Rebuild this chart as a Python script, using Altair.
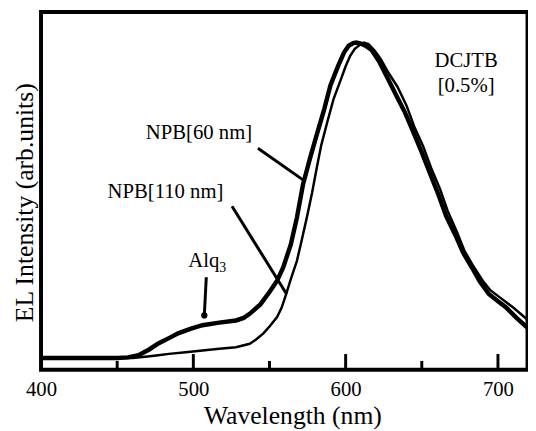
import altair as alt
import pandas as pd

# NPB[60 nm] (thick curve)
wl_60 = [400, 450, 457, 464, 471, 477, 484, 490, 498, 506, 517, 528, 533, 537, 544, 550, 555, 559, 564, 568,
         572, 577, 581, 586, 590, 595, 599, 602, 605, 607, 610, 613, 617, 622, 628, 634, 639, 645, 650, 655,
         661, 666, 672, 677, 683, 688, 694, 700, 705, 712, 720]
int_60 = [0, 0, 0.002, 0.009, 0.027, 0.046, 0.063, 0.078, 0.092, 0.104, 0.112, 0.119, 0.127, 0.14, 0.17, 0.209,
          0.245, 0.287, 0.36, 0.445, 0.55, 0.64, 0.707, 0.79, 0.864, 0.925, 0.969, 0.99, 0.998, 1.0, 0.997,
          0.99, 0.977, 0.94, 0.883, 0.825, 0.778, 0.71, 0.652, 0.59, 0.517, 0.45, 0.39, 0.335, 0.286, 0.243,
          0.203, 0.18, 0.162, 0.128, 0.093]

# NPB[110 nm] (thin curve)
wl_110 = [400, 460, 470, 477, 484, 495, 506, 517, 528, 537, 541, 546, 550, 555, 558, 561, 564, 568, 571, 574.5,
          578, 581, 584, 588, 592, 597, 600, 603, 606, 610, 612, 615, 619, 623, 628, 634, 640, 645, 651, 656,
          662, 667, 673, 678, 684, 690, 695, 701, 710, 720]
int_110 = [0, 0, 0.005, 0.009, 0.013, 0.018, 0.024, 0.029, 0.034, 0.045, 0.058, 0.078, 0.1, 0.13, 0.16, 0.203,
           0.25, 0.308, 0.37, 0.445, 0.525, 0.602, 0.675, 0.749, 0.82, 0.885, 0.925, 0.958, 0.98, 0.995, 1.0,
           0.995, 0.975, 0.948, 0.905, 0.86, 0.8, 0.734, 0.67, 0.604, 0.535, 0.466, 0.4, 0.34, 0.29, 0.245,
           0.215, 0.193, 0.16, 0.119]

# x-axis ticks (drawn inward)
major_ticks = [500, 600, 700]
minor_ticks = [450, 550, 650]
tick_labels = [400, 500, 600, 700]

# annotations
label_text = ["NPB[60 nm]", "NPB[110 nm]", "DCJTB", "[0.5%]"]
label_x = [503.7, 481.7, 679.1, 679.1]
label_y = [0.693, 0.5075, 0.922, 0.843]

leader_x1 = [542.4, 525.4, 508.5]
leader_y1 = [0.665, 0.481, 0.256]
leader_x2 = [573.4, 561.2, 507.2]
leader_y2 = [0.56, 0.203, 0.135]

alq_x = 517.0
alq_y = 0.2875
alq_sub_y = 0.272
dot_x = [507.2]
dot_y = [0.135]

W, H = 493.5, 363
XDOM = [400, 719.4]
YDOM = [-0.0375, 1.0969]
PX = (YDOM[1] - YDOM[0]) / H  # data units per pixel (for tick lengths)
FONT = "Liberation Serif"

xs = alt.Scale(domain=XDOM, nice=False, zero=False)
ys = alt.Scale(domain=YDOM, nice=False, zero=False)

d60 = pd.DataFrame({"wl": wl_60, "I": int_60})
d110 = pd.DataFrame({"wl": wl_110, "I": int_110})

x_axis = alt.Axis(values=tick_labels, domain=False, ticks=False, tickSize=0, grid=False,
                  labelFont=FONT, labelFontSize=21, labelColor="black", labelPadding=9,
                  labelFlush=False, title="Wavelength (nm)", titleFont=FONT, titleFontSize=26,
                  titleFontWeight="normal", titleColor="black", titleBaseline="alphabetic",
                  titleY=54, titleX=255, titleAlign="center")
y_axis = alt.Axis(domain=False, ticks=False, labels=False, grid=False,
                  title="EL Intensity (arb.units)", titleFont=FONT, titleFontSize=26,
                  titleFontWeight="normal", titleColor="black", titleAngle=270, titleX=-9,
                  titleY=193, titleAlign="center", titleBaseline="alphabetic")

line60 = alt.Chart(d60).mark_line(color="black", strokeWidth=4.5, clip=True).encode(
    x=alt.X("wl:Q", scale=xs, axis=x_axis),
    y=alt.Y("I:Q", scale=ys, axis=y_axis),
)
line110 = alt.Chart(d110).mark_line(color="black", strokeWidth=2.5, clip=True).encode(
    x=alt.X("wl:Q", scale=xs),
    y=alt.Y("I:Q", scale=ys),
)

tick_df = pd.DataFrame({
    "t": major_ticks + minor_ticks,
    "a": [YDOM[0]] * 6,
    "b": [YDOM[0] + 16 * PX] * 3 + [YDOM[0] + 9 * PX] * 3,
})
ticks = alt.Chart(tick_df).mark_rule(color="black", strokeWidth=3).encode(
    x=alt.X("t:Q", scale=xs), y=alt.Y("a:Q", scale=ys), y2="b:Q")

leaders = alt.Chart(pd.DataFrame({"x1": leader_x1, "y1": leader_y1, "x2": leader_x2, "y2": leader_y2})
                    ).mark_rule(color="black", strokeWidth=3).encode(
    x=alt.X("x1:Q", scale=xs), y=alt.Y("y1:Q", scale=ys), x2="x2:Q", y2="y2:Q")

dot = alt.Chart(pd.DataFrame({"x": dot_x, "y": dot_y})).mark_circle(color="black", size=40, opacity=1).encode(
    x=alt.X("x:Q", scale=xs), y=alt.Y("y:Q", scale=ys))

labels = alt.Chart(pd.DataFrame({"x": label_x, "y": label_y, "t": label_text})).mark_text(
    font=FONT, fontSize=21, color="black", align="center", baseline="alphabetic").encode(
    x=alt.X("x:Q", scale=xs), y=alt.Y("y:Q", scale=ys), text="t:N")

alq = alt.Chart(pd.DataFrame({"x": [alq_x], "y": [alq_y], "t": ["Alq"]})).mark_text(
    font=FONT, fontSize=21, color="black", align="right", baseline="alphabetic").encode(
    x=alt.X("x:Q", scale=xs), y=alt.Y("y:Q", scale=ys), text="t:N")
alq_sub = alt.Chart(pd.DataFrame({"x": [alq_x], "y": [alq_sub_y], "t": ["3"]})).mark_text(
    font=FONT, fontSize=14, color="black", align="left", baseline="alphabetic").encode(
    x=alt.X("x:Q", scale=xs), y=alt.Y("y:Q", scale=ys), text="t:N")

chart = alt.layer(line110, line60, ticks, leaders, dot, labels, alq, alq_sub).properties(
    width=W, height=H,
    autosize=alt.AutoSizeParams(type="none"),
    padding={"left": 33.5, "top": 1, "right": 0.5, "bottom": 58},
    background="white",
).configure_view(stroke="black", strokeWidth=4)

chart.save("out.html", embed_options={"renderer": "svg", "actions": False})
